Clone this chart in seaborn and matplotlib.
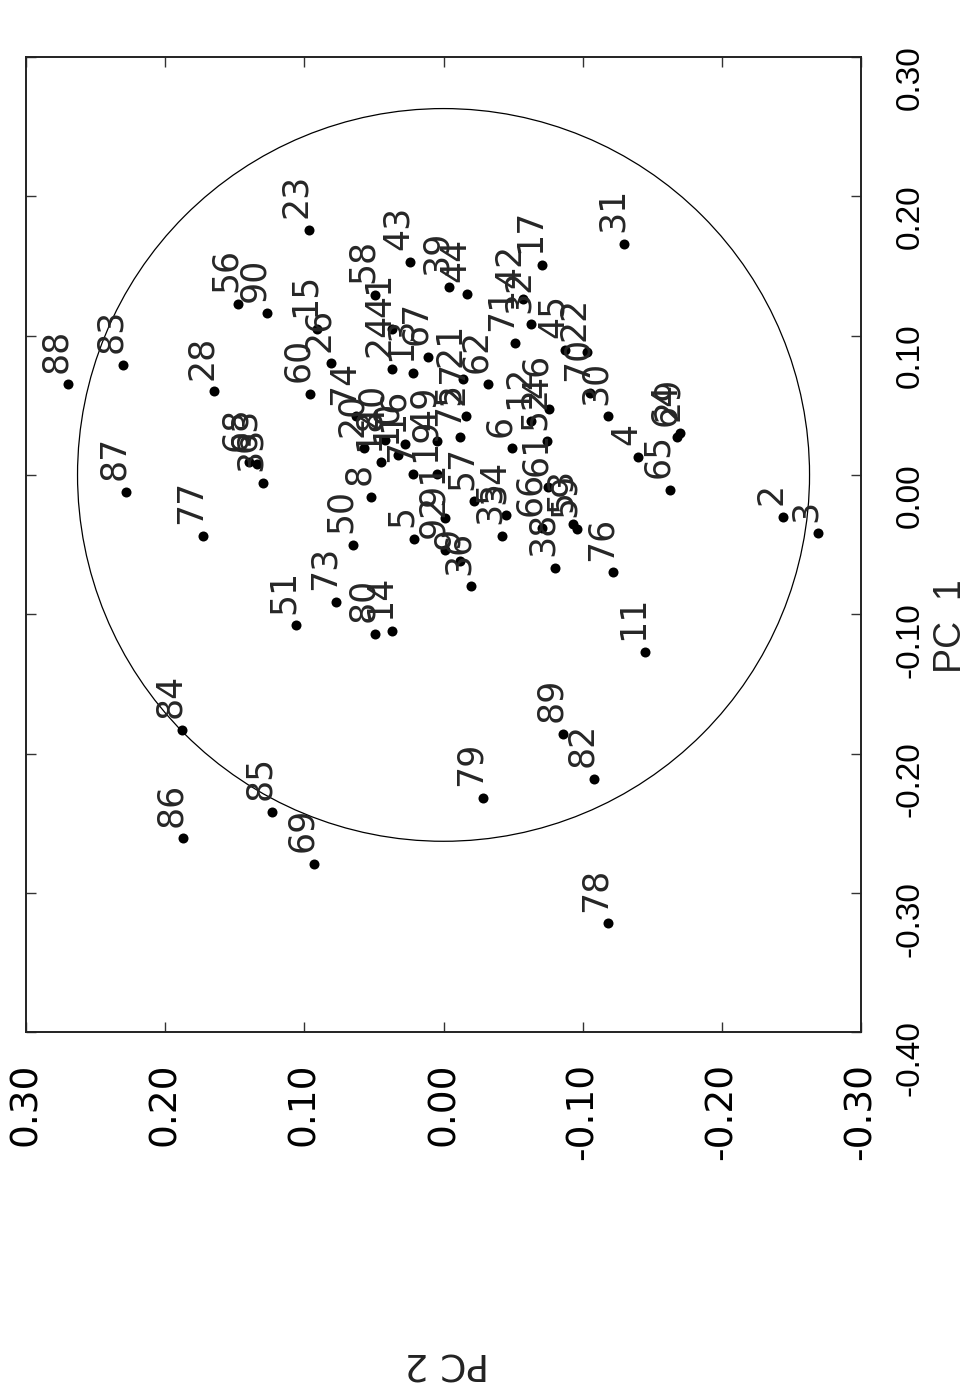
"""
PCA scores plot (PC 1 vs PC 2), drawn as a rotated page:
PC 1 runs up the page, PC 2 runs right-to-left.
"""

import pandas as pd
import matplotlib
matplotlib.use('Agg')
import matplotlib.pyplot as plt
import seaborn as sns
from matplotlib.patches import Circle

# ── Data ──────────────────────────────────────────────────────────────────────

labels = [
    '88', '83', '28', '56', '90', '23', '60', '15', '26', '87',
    '77', '68', '63', '33', '50', '8', '5', '73', '51', '80',
    '14', '84', '85', '86', '69', '43', '39', '44', '58', '41',
    '24', '13', '67', '21', '62', '74', '20', '40', '18', '10',
    '16', '7', '49', '19', '91', '92', '9', '75', '27', '57',
    '36', '34', '35', '6', '71', '42', '32', '17', '12', '46',
    '52', '61', '66', '38', '53', '59', '45', '22', '70', '30',
    '31', '4', '65', '29', '64', '2', '3', '76', '11', '89',
    '82', '79', '78',
]

pc1 = [
    0.065, 0.079, 0.060, 0.123, 0.116, 0.176, 0.058, 0.105, 0.080, -0.012,
    -0.044, 0.009, 0.008, -0.006, -0.050, -0.016, -0.046, -0.091, -0.108, -0.114,
    -0.112, -0.183, -0.242, -0.261, -0.279, 0.153, 0.135, 0.130, 0.129, 0.105,
    0.076, 0.073, 0.085, 0.069, 0.065, 0.042, 0.019, 0.025, 0.009, 0.014,
    0.022, 0.001, 0.024, 0.001, -0.031, -0.054, -0.062, 0.027, 0.042, -0.019,
    -0.080, -0.029, -0.044, 0.019, 0.095, 0.126, 0.108, 0.151, 0.039, 0.047,
    0.024, -0.009, -0.038, -0.067, -0.035, -0.039, 0.090, 0.088, 0.059, 0.042,
    0.166, 0.013, -0.011, 0.030, 0.027, -0.030, -0.042, -0.070, -0.127, -0.186,
    -0.218, -0.232, -0.322,
]

pc2 = [
    0.270, 0.230, 0.165, 0.148, 0.127, 0.097, 0.096, 0.091, 0.081, 0.228,
    0.173, 0.140, 0.134, 0.130, 0.065, 0.052, 0.021, 0.077, 0.106, 0.049,
    0.037, 0.188, 0.123, 0.187, 0.093, 0.024, -0.004, -0.017, 0.049, 0.037,
    0.037, 0.022, 0.011, -0.014, -0.032, 0.063, 0.057, 0.042, 0.045, 0.033,
    0.028, 0.022, 0.005, 0.005, -0.001, -0.001, -0.012, -0.012, -0.016, -0.022,
    -0.020, -0.045, -0.042, -0.049, -0.051, -0.057, -0.063, -0.071, -0.063, -0.076,
    -0.074, -0.075, -0.071, -0.080, -0.093, -0.096, -0.087, -0.103, -0.105, -0.118,
    -0.130, -0.140, -0.163, -0.170, -0.168, -0.244, -0.269, -0.122, -0.145, -0.086,
    -0.108, -0.028, -0.118,
]

pc1_ticks = [-0.40, -0.30, -0.20, -0.10, 0.00, 0.10, 0.20, 0.30]
pc2_ticks = [0.30, 0.20, 0.10, 0.00, -0.10, -0.20, -0.30]
circle_radius = 0.263

df = pd.DataFrame({'label': labels, 'PC1': pc1, 'PC2': pc2})

# ── Plot ──────────────────────────────────────────────────────────────────────

sns.set_style('white')
plt.rcParams['font.family'] = ['DejaVu Sans']

fig = plt.figure(figsize=(9.68, 13.91), dpi=100)
ax = fig.add_axes([0.0269, 0.258, 0.8626, 0.701])

sns.scatterplot(data=df, x='PC2', y='PC1', color='black', s=52,
                linewidth=0, legend=False, ax=ax)

ax.add_patch(Circle((0, 0), circle_radius, fill=False,
                    edgecolor='black', linewidth=0.9))

# point labels, rotated with the page
for _, row in df.iterrows():
    ax.annotate(row['label'], (row['PC2'], row['PC1']),
                xytext=(-1.5, 8.5), textcoords='offset points',
                rotation=90, rotation_mode='anchor',
                ha='left', va='baseline', fontsize=25)

ax.set_xlim(0.30, -0.30)
ax.set_ylim(-0.40, 0.30)
ax.set_xlabel('')
ax.set_ylabel('')

ax.set_xticks(pc2_ticks)
ax.set_xticklabels([f'{t:.2f}' for t in pc2_ticks], rotation=90, fontsize=27)
ax.set_yticks(pc1_ticks)
ax.set_yticklabels([f'{t:.2f}' for t in pc1_ticks], rotation=90,
                   fontsize=24, family=['Liberation Sans', 'DejaVu Sans'])

ax.tick_params(axis='x', direction='in', length=7, width=1,
               top=True, bottom=True, pad=22, colors='#333333',
               labelcolor='black')
ax.tick_params(axis='y', direction='in', length=7, width=1,
               left=True, right=True, labelleft=False, labelright=True,
               pad=24, colors='#333333', labelcolor='black')

for spine in ax.spines.values():
    spine.set_color('#222222')
    spine.set_linewidth(1.4)

# axis titles, turned as on the page
fig.text(951 / 968, 1 - 626 / 1391, 'PC  1', rotation=90,
         ha='center', va='center', fontsize=27,
         family=['Liberation Sans', 'DejaVu Sans'])
fig.text(447 / 968, 1 - 1362 / 1391, 'PC 2', rotation=180,
         ha='center', va='center', fontsize=27, color='#222222')

fig.savefig('out.png', dpi=100)
